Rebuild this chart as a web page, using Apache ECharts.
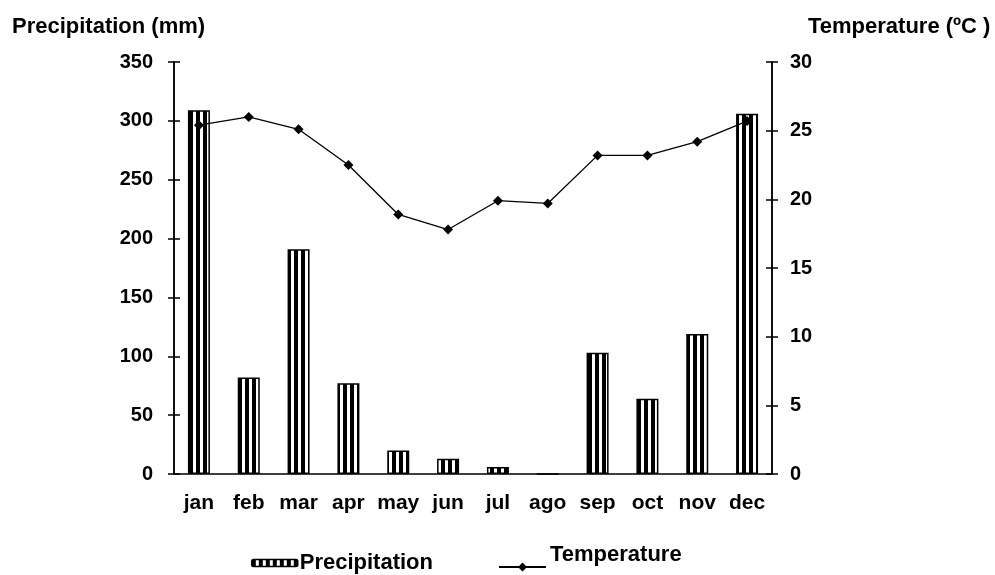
<!DOCTYPE html>
<html><head><meta charset="utf-8">
<script src="https://cdn.jsdelivr.net/npm/echarts@6/dist/echarts.min.js"></script>
<style>html,body{margin:0;padding:0;background:#fff}#c{width:995px;height:575px}</style>
</head><body><div id="c"></div>
<script>
const months = ['jan','feb','mar','apr','may','jun','jul','ago','sep','oct','nov','dec'];
const precipitation = [309, 82, 191, 77, 20, 13, 6, 0, 103, 64, 119, 306];
const temperature = [25.4, 26.0, 25.1, 22.5, 18.9, 17.8, 19.9, 19.7, 23.2, 23.2, 24.2, 25.7];
const precipTicks = [0, 350, 50];
const tempTicks = [0, 30, 5];

function stripe() {
  const c = document.createElement('canvas');
  c.width = 7; c.height = 4;
  const g = c.getContext('2d');
  g.fillStyle = '#fff'; g.fillRect(0, 0, 7, 4);
  g.fillStyle = '#000'; g.fillRect(0, 0, 4, 4);
  return c;
}
const font = '"Liberation Sans", Arial, sans-serif';
const txt = { color: '#000', fontWeight: 'bold', fontFamily: font };
const pattern = { image: stripe(), repeat: 'repeat' };
// legend glyph for the temperature line: line + diamond sitting low in a tall box
const tempIcon = 'path://M0,0L0.01,0L0.01,0.01Z M0,27L47,27L47,29L0,29Z M23.5,23.5L28,28L23.5,32.5L19,28Z';

function yAx(range, pos, extra) {
  return Object.assign({
    type: 'value', min: range[0], max: range[1], interval: range[2], position: pos,
    splitLine: { show: false },
    axisLine: { show: true, lineStyle: { color: '#000', width: 1.5 } },
    axisTick: { show: true, length: 6, lineStyle: { color: '#000', width: 1.5 } }
  }, extra);
}

const chart = echarts.init(document.getElementById('c'));
chart.setOption({
  animation: false,
  backgroundColor: '#fff',
  textStyle: { fontFamily: font },
  grid: { left: 174, right: 223, top: 62, bottom: 101 },
  legend: [
    {
      left: 251, top: 552, padding: 0, itemWidth: 46, itemHeight: 7,
      textStyle: Object.assign({ fontSize: 22, padding: [0, 0, 0, -3] }, txt),
      data: [{ name: 'Precipitation', itemStyle: { color: pattern, borderColor: '#000', borderWidth: 1.5 } }]
    },
    {
      left: 499, top: 539, padding: 0, itemWidth: 47, itemHeight: 32.5,
      textStyle: Object.assign({ fontSize: 22, padding: [0, 0, 0, -1] }, txt),
      data: [{ name: 'Temperature', icon: tempIcon, itemStyle: { color: '#000', borderWidth: 0, opacity: 1 } }]
    }
  ],
  xAxis: {
    type: 'category', data: months, boundaryGap: true,
    axisLine: { lineStyle: { color: '#000', width: 1.5 } },
    axisTick: { show: false },
    axisLabel: Object.assign({ fontSize: 21, margin: 19, interval: 0, hideOverlap: false }, txt)
  },
  yAxis: [
    yAx(precipTicks, 'left', {
      name: 'Precipitation (mm)', nameLocation: 'end', nameGap: 24,
      nameTextStyle: Object.assign({ fontSize: 22, align: 'left', padding: [0, 0, 0, -162] }, txt),
      axisLabel: Object.assign({ fontSize: 20, margin: 21 }, txt)
    }),
    yAx(tempTicks, 'right', {
      name: 'Temperature (ºC )', nameLocation: 'end', nameGap: 24,
      nameTextStyle: Object.assign({ fontSize: 22, align: 'left', padding: [0, 0, 0, 36] }, txt),
      axisLabel: Object.assign({ fontSize: 20, margin: 18 }, txt)
    }),
    yAx(precipTicks, 'left', { axisLabel: { show: false }, axisTick: { show: true, inside: true, length: 6, lineStyle: { color: '#000', width: 1.5 } } }),
    yAx(tempTicks, 'right', { axisLabel: { show: false }, axisTick: { show: true, inside: true, length: 6, lineStyle: { color: '#000', width: 1.5 } } })
  ],
  series: [
    {
      name: 'Precipitation', type: 'bar', yAxisIndex: 0, data: precipitation, barWidth: 22,
      itemStyle: { color: pattern, borderColor: '#000', borderWidth: 1.5 }
    },
    {
      name: 'Temperature', type: 'line', yAxisIndex: 1, data: temperature,
      symbol: 'diamond', symbolSize: 10,
      lineStyle: { color: '#000', width: 1.3 }, itemStyle: { color: '#000' }
    }
  ]
});
</script></body></html>
